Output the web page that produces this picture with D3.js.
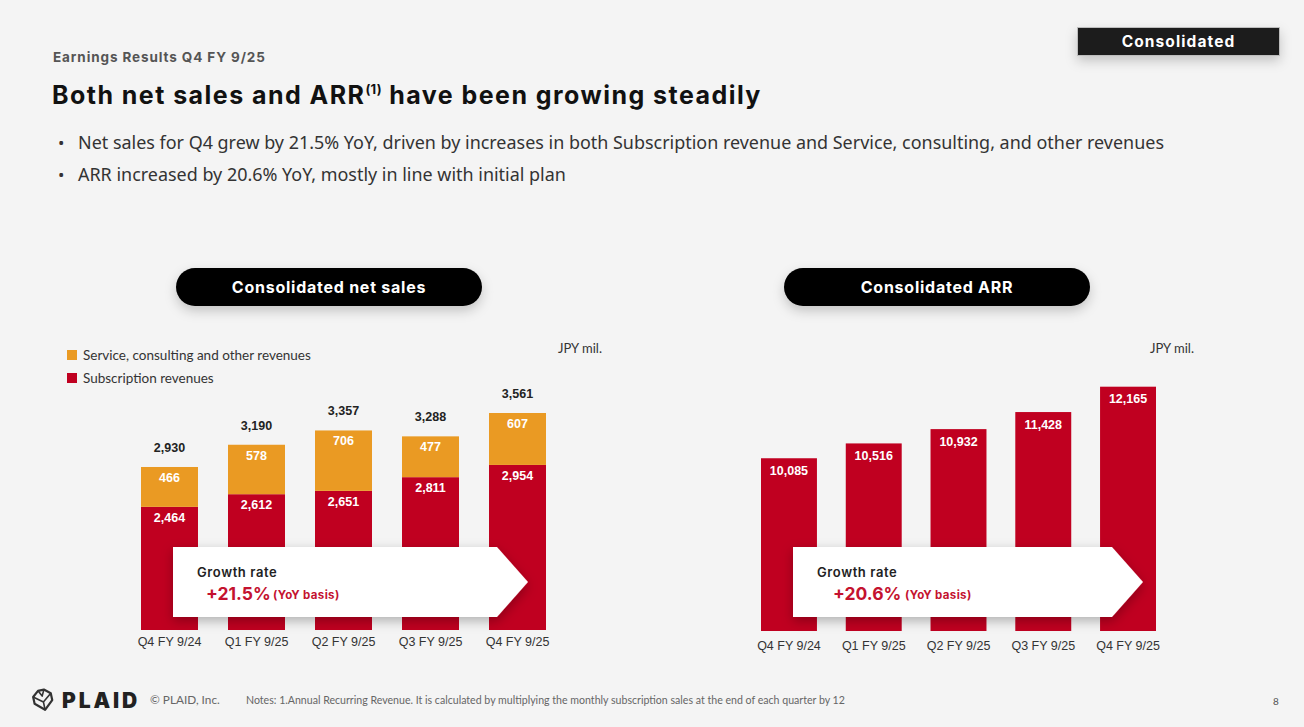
<!DOCTYPE html>
<html>
<head>
<meta charset="utf-8">
<script src="https://cdn.jsdelivr.net/npm/d3@7/dist/d3.min.js"></script>
<style>
  html, body { margin: 0; padding: 0; background: #f4f4f4; }
  svg { display: block; }
</style>
</head>
<body>
<svg id="slide" width="1304" height="727"></svg>
<script>
// ---- Data ----
const quarters = ["Q4 FY 9/24", "Q1 FY 9/25", "Q2 FY 9/25", "Q3 FY 9/25", "Q4 FY 9/25"];
const subscriptionRevenue = [2464, 2612, 2651, 2811, 2954];
const serviceRevenue = [466, 578, 706, 477, 607];
const netSalesTotal = [2930, 3190, 3357, 3288, 3561];
const arrValues = [10085, 10516, 10932, 11428, 12165];
const netSalesGrowth = "+21.5%";
const arrGrowth = "+20.6%";
const legendLabels = ["Service, consulting and other revenues", "Subscription revenues"];
const bulletLines = [
  "Net sales for Q4 grew by 21.5% YoY, driven by increases in both Subscription revenue and Service, consulting, and other revenues",
  "ARR increased by 20.6% YoY, mostly in line with initial plan"
];

const RED = "#c00020";
const ORANGE = "#ea9a23";
const fmt = d3.format(",");

const svg = d3.select("#slide");
svg.append("rect").attr("width", 1304).attr("height", 727).attr("fill", "#f4f4f4");

const defs = svg.append("defs");
const sh = defs.append("filter").attr("id", "shadow")
  .attr("x", "-20%").attr("y", "-40%").attr("width", "140%").attr("height", "190%");
sh.append("feDropShadow").attr("dx", 0).attr("dy", 4).attr("stdDeviation", 6)
  .attr("flood-color", "#000").attr("flood-opacity", 0.28);
const shSoft = defs.append("filter").attr("id", "shadowSoft")
  .attr("x", "-20%").attr("y", "-60%").attr("width", "140%").attr("height", "240%");
shSoft.append("feDropShadow").attr("dx", 0).attr("dy", 5).attr("stdDeviation", 6)
  .attr("flood-color", "#000").attr("flood-opacity", 0.2);

// ---- Header ----
svg.append("text").attr("x", 53).attr("y", 62)
  .attr("font-family", "Inter").attr("font-weight", 700).attr("font-size", 13.5)
  .attr("letter-spacing", 0.9).attr("fill", "#555").text("Earnings Results Q4 FY 9/25");

const title = svg.append("text").attr("x", 52).attr("y", 104)
  .attr("font-family", "Inter").attr("font-weight", 700).attr("font-size", 25)
  .attr("letter-spacing", 1.45).attr("fill", "#111");
title.append("tspan").text("Both net sales and ARR");
title.append("tspan").attr("font-size", 13).attr("letter-spacing", 0.3).attr("dy", -10).text("(1)");
title.append("tspan").attr("dy", 10).text(" have been growing steadily");

const badge = svg.append("g");
badge.append("rect").attr("x", 1077.5).attr("y", 27.5).attr("width", 202).attr("height", 28)
  .attr("fill", "#1b1b1b").attr("stroke", "#bdbdbd").attr("stroke-width", 1)
  .attr("filter", "url(#shadowSoft)");
badge.append("text").attr("x", 1178.5).attr("y", 47).attr("text-anchor", "middle")
  .attr("font-family", "Inter").attr("font-weight", 700).attr("font-size", 15.5)
  .attr("letter-spacing", 1.1).attr("fill", "#fff").text("Consolidated");

bulletLines.forEach((t, i) => {
  const y = 149 + i * 32;
  svg.append("text").attr("x", 58).attr("y", y)
    .attr("font-family", "Noto Sans").attr("font-size", 17).attr("fill", "#333").text("•");
  svg.append("text").attr("x", 78).attr("y", y)
    .attr("font-family", "Noto Sans").attr("font-size", 17.95).attr("fill", "#333").text(t);
});

// ---- Section pills ----
function pill(cx, label) {
  const g = svg.append("g");
  g.append("rect").attr("x", cx - 153).attr("y", 268).attr("width", 306).attr("height", 38)
    .attr("rx", 19).attr("fill", "#000").attr("filter", "url(#shadowSoft)");
  g.append("text").attr("x", cx).attr("y", 293).attr("text-anchor", "middle")
    .attr("font-family", "Inter").attr("font-weight", 700).attr("font-size", 16)
    .attr("letter-spacing", 0.75).attr("fill", "#fff").text(label);
}
pill(329, "Consolidated net sales");
pill(937, "Consolidated ARR");

// Unit labels
[[558, "JPY mil."], [1150, "JPY mil."]].forEach(([x, t]) => {
  svg.append("text").attr("x", x).attr("y", 353)
    .attr("font-family", "Lato").attr("font-size", 13).attr("fill", "#333").text(t);
});

// Legend
[[ORANGE, legendLabels[0], 350], [RED, legendLabels[1], 373]].forEach(([c, t, y]) => {
  svg.append("rect").attr("x", 67).attr("y", y).attr("width", 10).attr("height", 10).attr("fill", c);
  svg.append("text").attr("x", 83).attr("y", y + 9.5)
    .attr("font-family", "Lato").attr("font-size", 13.5).attr("fill", "#333").text(t);
});

// ---- Net sales stacked bars ----
const xL = d3.scaleBand().domain(quarters).range([141, 546]).paddingInner(0.345).paddingOuter(0);
// truncated value axis: baseline sits at 1,025
const yL = d3.scaleLinear().domain([1025, 3561]).range([630, 413]);

const stackData = quarters.map((q, i) => ({ q, sub: subscriptionRevenue[i], svc: serviceRevenue[i], total: netSalesTotal[i] }));
const stacked = d3.stack().keys(["sub", "svc"])(stackData);
const colorOf = { sub: RED, svc: ORANGE };

const gL = svg.append("g");
stacked.forEach(layer => {
  gL.selectAll(null).data(layer).join("rect")
    .attr("x", d => xL(d.data.q))
    .attr("width", xL.bandwidth())
    .attr("y", d => yL(d[1]))
    .attr("height", d => Math.max(0, Math.min(yL.range()[0], yL(d[0])) - yL(d[1])))
    .attr("fill", colorOf[layer.key]);
  gL.selectAll(null).data(layer).join("text")
    .attr("x", d => xL(d.data.q) + xL.bandwidth() / 2)
    .attr("y", d => yL(d[1]) + 15)
    .attr("text-anchor", "middle")
    .attr("font-family", "Liberation Sans, Arial").attr("font-weight", 700).attr("font-size", 12.5)
    .attr("fill", "#fff")
    .text(d => fmt(d.data[layer.key]));
});
gL.selectAll(null).data(stackData).join("text")
  .attr("x", d => xL(d.q) + xL.bandwidth() / 2)
  .attr("y", d => yL(d.total) - 15)
  .attr("text-anchor", "middle")
  .attr("font-family", "Liberation Sans, Arial").attr("font-weight", 700).attr("font-size", 12.5)
  .attr("fill", "#222").text(d => fmt(d.total));

const axL = svg.append("g").attr("transform", "translate(0,635)")
  .call(d3.axisBottom(xL).tickSize(0).tickPadding(0));
axL.select(".domain").remove();
axL.selectAll("text").attr("dy", "0.9em")
  .attr("font-family", "Liberation Sans, Arial").attr("font-size", 12.5).attr("fill", "#333");

// ---- ARR bars ----
const xR = d3.scaleBand().domain(quarters).range([761, 1156]).paddingInner(0.34).paddingOuter(0);
const yR = d3.scaleLinear().domain([5063, 12165]).range([631, 386.7]);
const arrData = quarters.map((q, i) => ({ q, v: arrValues[i] }));
const gR = svg.append("g");
gR.selectAll(null).data(arrData).join("rect")
  .attr("x", d => xR(d.q)).attr("width", xR.bandwidth())
  .attr("y", d => yR(d.v)).attr("height", d => yR.range()[0] - yR(d.v))
  .attr("fill", RED);
gR.selectAll(null).data(arrData).join("text")
  .attr("x", d => xR(d.q) + xR.bandwidth() / 2)
  .attr("y", d => yR(d.v) + 16.5)
  .attr("text-anchor", "middle")
  .attr("font-family", "Liberation Sans, Arial").attr("font-weight", 700).attr("font-size", 12.5)
  .attr("fill", "#fff").text(d => fmt(d.v));

const axR = svg.append("g").attr("transform", "translate(0,638.5)")
  .call(d3.axisBottom(xR).tickSize(0).tickPadding(0));
axR.select(".domain").remove();
axR.selectAll("text").attr("dy", "0.9em")
  .attr("font-family", "Liberation Sans, Arial").attr("font-size", 12.5).attr("fill", "#333");

// ---- Growth arrows ----
function growthArrow(x0, x1, tip, label, value, valueX, noteX) {
  const yTop = 547, yBot = 617, yMid = 582;
  const g = svg.append("g");
  g.append("path")
    .attr("d", `M${x0},${yTop}H${x1}L${tip},${yMid}L${x1},${yBot}H${x0}Z`)
    .attr("fill", "#fff").attr("filter", "url(#shadow)");
  g.append("text").attr("x", x0 + 24).attr("y", 577)
    .attr("font-family", "Inter").attr("font-weight", 600).attr("font-size", 13)
    .attr("letter-spacing", 0.6).attr("fill", "#222").text(label);
  g.append("text").attr("x", valueX).attr("y", 600)
    .attr("font-family", "Inter").attr("font-weight", 700).attr("font-size", 17.5)
    .attr("fill", "#c4122f").text(value);
  g.append("text").attr("x", noteX).attr("y", 599)
    .attr("font-family", "Inter").attr("font-weight", 700).attr("font-size", 11.5)
    .attr("letter-spacing", 0.35).attr("fill", "#c4122f").text("(YoY basis)");
}
growthArrow(173, 497, 528, "Growth rate", netSalesGrowth, 206, 273);
growthArrow(793, 1112, 1143, "Growth rate", arrGrowth, 833, 905);

// ---- Footer ----
const logo = svg.append("g").attr("transform", "translate(43,700) rotate(-12)")
  .attr("fill", "none").attr("stroke", "#333").attr("stroke-width", 2.2).attr("stroke-linejoin", "round");
logo.append("path").attr("d", "M-9,-5L-3,-10L3,-10L9,-5L9,2L0,10L-9,2Z");
logo.append("path").attr("d", "M-9,-5L0,2L9,-5M0,2L0,10M-3,-10L0,-4L3,-10").attr("stroke-width", 1.6);

svg.append("text").attr("x", 62).attr("y", 708)
  .attr("font-family", "Inter").attr("font-weight", 900).attr("font-size", 21)
  .attr("letter-spacing", 2.9).attr("fill", "#222").text("PLAID");
svg.append("text").attr("x", 150).attr("y", 704)
  .attr("font-family", "Lato").attr("font-size", 11.8).attr("fill", "#666").text("© PLAID, Inc.");
svg.append("text").attr("x", 246).attr("y", 704)
  .attr("font-family", "Lato").attr("font-size", 10.6).attr("fill", "#666")
  .text("Notes: 1.Annual Recurring Revenue. It is calculated by multiplying the monthly subscription sales at the end of each quarter by 12");
svg.append("text").attr("x", 1273).attr("y", 705)
  .attr("font-family", "Lato").attr("font-size", 10).attr("fill", "#555").text("8");
</script>
</body>
</html>
